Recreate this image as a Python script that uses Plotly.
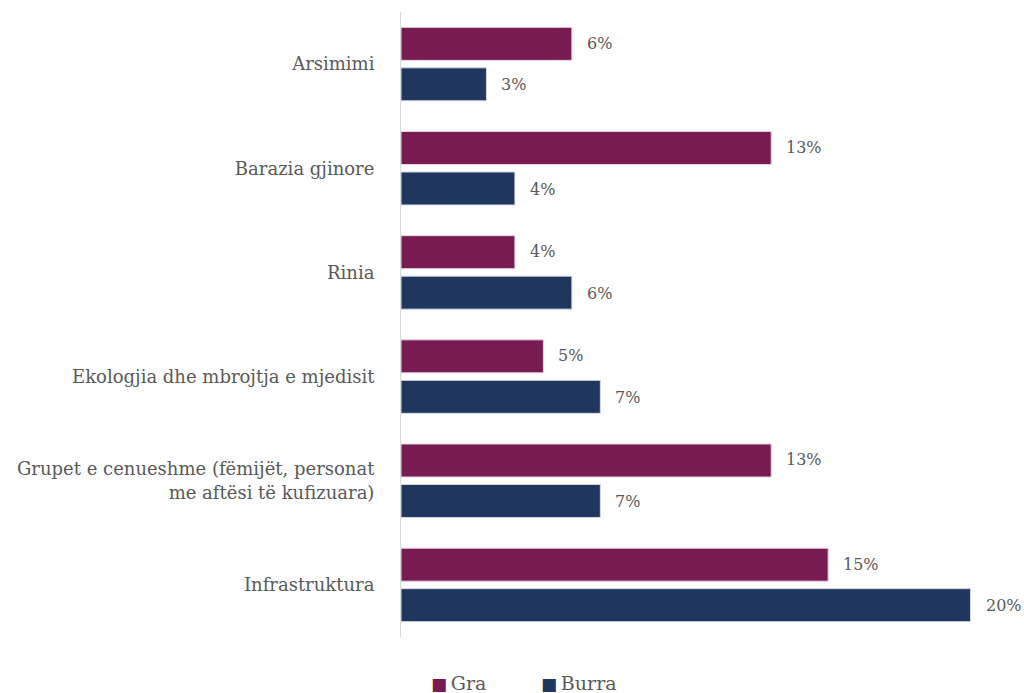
import plotly.graph_objects as go

categories = [
    "Arsimimi",
    "Barazia gjinore",
    "Rinia",
    "Ekologjia dhe mbrojtja e mjedisit",
    "Grupet e cenueshme (fëmijët, personat<br>me aftësi të kufizuara)",
    "Infrastruktura",
]
gra = [6, 13, 4, 5, 13, 15]
burra = [3, 4, 6, 7, 7, 20]
series_names = ["Gra", "Burra"]

GRA_COLOR = "#771B52"
BURRA_COLOR = "#1F365E"
TEXT_COLOR = "#595959"
FONT = "'DejaVu Serif', 'Liberation Serif', serif"

fig = go.Figure()
fig.add_trace(go.Bar(
    y=categories, x=gra, name=series_names[0], orientation="h",
    marker=dict(color=GRA_COLOR, line=dict(color="#E6D3DE", width=1)),
))
fig.add_trace(go.Bar(
    y=categories, x=burra, name=series_names[1], orientation="h",
    marker=dict(color=BURRA_COLOR, line=dict(color="#D3D8E0", width=1)),
))

# value labels placed just past the end of each bar
for i, cat in enumerate(categories):
    for val, off in ((gra[i], -0.2), (burra[i], 0.2)):
        fig.add_annotation(
            x=val, y=i + off, xref="x", yref="y",
            text=f"{val}%", showarrow=False,
            xanchor="left", xshift=13,
            font=dict(family=FONT, size=16, color=TEXT_COLOR),
        )

# compact legend below the plot: coloured square followed by the series name
for name, color, xpos in ((series_names[0], GRA_COLOR, 0.046),
                          (series_names[1], BURRA_COLOR, 0.231)):
    fig.add_annotation(
        x=xpos, y=0.0, xref="paper", yref="paper", yshift=-46,
        xanchor="left", yanchor="middle", showarrow=False,
        text=f"<span style='color:{color};font-size:17px'>■</span>&#8201;{name}",
        font=dict(family=FONT, size=19, color=TEXT_COLOR),
    )

fig.update_layout(
    width=1024, height=693,
    margin=dict(l=401, r=25, t=12, b=56),
    plot_bgcolor="white", paper_bgcolor="white",
    barmode="group", bargap=0.223, bargroupgap=0.185,
    font=dict(family=FONT, size=18, color=TEXT_COLOR),
    showlegend=False,
)
fig.update_xaxes(range=[0, 21], showticklabels=False, showgrid=False,
                 zeroline=False, showline=False)
fig.update_yaxes(
    type="category", autorange="reversed",
    showline=True, linecolor="#D9D9D9", linewidth=1,
    showgrid=False, ticks="", ticklabelstandoff=22,
    tickfont=dict(family=FONT, size=18, color=TEXT_COLOR),
)

fig.write_html("out.html")
